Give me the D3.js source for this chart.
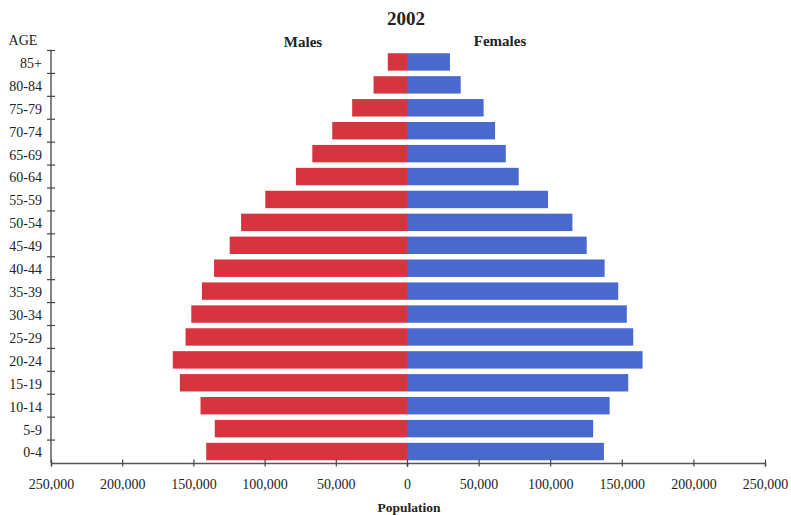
<!DOCTYPE html>
<html>
<head>
<meta charset="utf-8">
<script src="https://cdn.jsdelivr.net/npm/d3@7"></script>
<style>
  body { margin: 0; background: #fff; }
  svg text { font-family: "Liberation Serif", "Times New Roman", serif; fill: #222; }
</style>
</head>
<body>
<svg width="791" height="515"></svg>
<script>
  // Grupos de edad (de arriba a abajo)
  var ages = ["85+", "80-84", "75-79", "70-74", "65-69", "60-64", "55-59", "50-54", "45-49",
              "40-44", "35-39", "30-34", "25-29", "20-24", "15-19", "10-14", "5-9", "0-4"];

  // Población estimada 2002
  var males = [13500, 23500, 38500, 52500, 66500, 78000, 99500, 116500, 124500,
               135500, 144000, 151500, 155500, 164500, 159500, 145000, 135000, 141000];
  var females = [30000, 37500, 53500, 61500, 69000, 78000, 98500, 115500, 125500,
                 138000, 147500, 153500, 158000, 164500, 154500, 141500, 130000, 137500];

  var xTicksLeft = [50000, 100000, 150000, 200000, 250000];
  var xTicksRight = [0, 50000, 100000, 150000, 200000, 250000];

  var svg = d3.select("svg");
  var cx = 407, xLeft = 51, xRight = 765, yTop = 50.5, yBottom = 463;

  var xL = d3.scaleLinear().domain([0, 250000]).range([cx, xLeft]);
  var xR = d3.scaleLinear().domain([0, 250000]).range([cx, xRight]);

  var y = d3.scaleBand()
      .domain(ages)
      .range([yTop, yBottom])
      .paddingInner(0.24)
      .paddingOuter(0.12);

  var red = "#d8343f", blue = "#4a69cf";

  // barras hombres
  svg.append("g").selectAll("rect")
    .data(males)
    .enter().append("rect")
      .attr("x", function(d) { return xL(d); })
      .attr("y", function(d, i) { return y(ages[i]); })
      .attr("width", function(d) { return xL(0) - xL(d); })
      .attr("height", y.bandwidth())
      .attr("fill", red);

  // barras mujeres
  svg.append("g").selectAll("rect")
    .data(females)
    .enter().append("rect")
      .attr("x", xR(0))
      .attr("y", function(d, i) { return y(ages[i]); })
      .attr("width", function(d) { return xR(d) - xR(0); })
      .attr("height", y.bandwidth())
      .attr("fill", blue);

  // eje Y (etiquetas)
  var yAxis = svg.append("g")
      .attr("transform", "translate(" + xLeft + ",0)")
      .call(d3.axisLeft(y).tickSize(0).tickPadding(9));
  yAxis.select(".domain").remove();
  yAxis.selectAll("text")
      .attr("font-size", 14)
      .attr("dy", "0.42em")
      .style("font-family", "Liberation Serif, serif")
      .attr("fill", "#222");

  var step = y.step();
  svg.append("line")
      .attr("x1", xLeft).attr("x2", xLeft)
      .attr("y1", yTop).attr("y2", yBottom)
      .attr("stroke", "#444").attr("stroke-width", 1.3);
  svg.append("g").selectAll("line")
    .data(ages)
    .enter().append("line")
      .attr("x1", xLeft - 4).attr("x2", xLeft + 4)
      .attr("y1", function(d) { return y(d) - step * 0.12; })
      .attr("y2", function(d) { return y(d) - step * 0.12; })
      .attr("stroke", "#444").attr("stroke-width", 1.2);

  // eje X (dos mitades)
  function xAxis(scale, ticks) {
    var g = svg.append("g")
        .attr("transform", "translate(0," + yBottom + ")")
        .call(d3.axisBottom(scale)
            .tickValues(ticks)
            .tickFormat(d3.format(","))
            .tickSize(3.5)
            .tickPadding(13));
    g.select(".domain").attr("stroke", "#555").attr("stroke-width", 1.3);
    g.selectAll(".tick line").attr("y1", -3.5).attr("stroke", "#444").attr("stroke-width", 1.2);
    g.selectAll(".tick text")
        .attr("font-size", 14)
        .style("font-family", "Liberation Serif, serif")
        .attr("fill", "#222");
  }
  xAxis(xL, xTicksLeft);
  xAxis(xR, xTicksRight);

  // títulos
  svg.append("text")
      .attr("x", 406).attr("y", 25)
      .attr("text-anchor", "middle")
      .attr("font-size", 19).attr("font-weight", "bold")
      .text("2002");
  svg.append("text")
      .attr("x", 303).attr("y", 47)
      .attr("text-anchor", "middle")
      .attr("font-size", 15).attr("font-weight", "bold")
      .text("Males");
  svg.append("text")
      .attr("x", 500).attr("y", 46)
      .attr("text-anchor", "middle")
      .attr("font-size", 15).attr("font-weight", "bold")
      .text("Females");
  svg.append("text")
      .attr("x", 23).attr("y", 45)
      .attr("text-anchor", "middle")
      .attr("font-size", 14)
      .text("AGE");
  svg.append("text")
      .attr("x", 409).attr("y", 512)
      .attr("text-anchor", "middle")
      .attr("font-size", 13.5).attr("font-weight", "bold")
      .text("Population");
</script>
</body>
</html>
